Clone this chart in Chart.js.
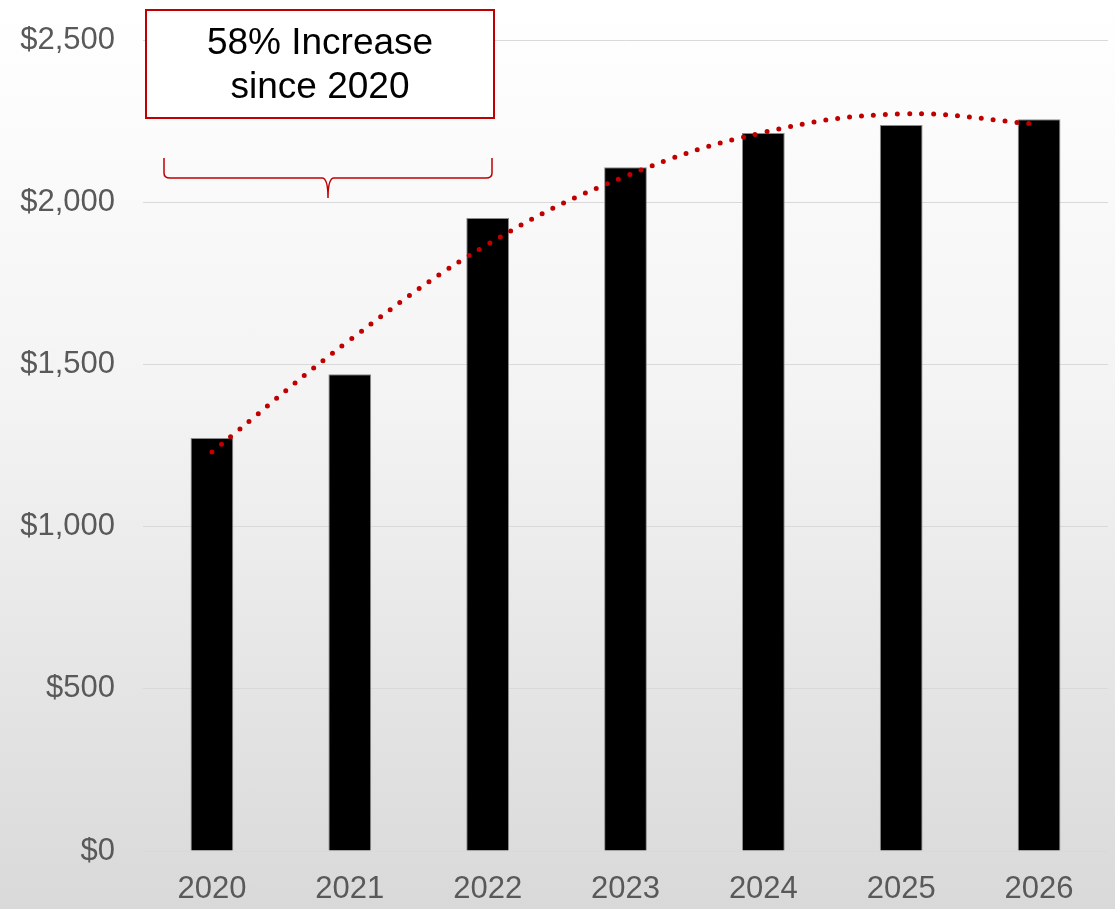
<!DOCTYPE html>
<html>
<head>
<meta charset="utf-8">
<script src="https://cdn.jsdelivr.net/npm/chart.js@4.4.0/dist/chart.umd.min.js"></script>
<style>
  html, body { margin: 0; padding: 0; }
  body {
    width: 1115px; height: 909px; overflow: hidden;
    background: linear-gradient(to bottom, #ffffff 0%, #f3f3f3 45%, #d9d9d9 100%);
  }
  #wrap { position: relative; width: 1115px; height: 909px; }
</style>
</head>
<body>
<div id="wrap"><canvas id="Graph" width="1115" height="909"></canvas></div>
<script>
// chart values
const years = ['2020', '2021', '2022', '2023', '2024', '2025', '2026'];
const spending = [1273, 1470, 1951, 2108, 2213, 2238, 2256];
const trendValues = [1230, 1575, 1870, 2080, 2215, 2272, 2240];
const tickValues = [0, 500, 1000, 1500, 2000, 2500];
const calloutLines = ['58% Increase', 'since 2020'];

const RED = '#C00000';
const GREY_TEXT = '#595959';
const FONT = '"Liberation Sans", Arial, sans-serif';

// draws the callout box and the brace under it
const calloutPlugin = {
    id: 'callout',
    afterDraw(chart) {
        const ctx = chart.ctx;
        ctx.save();
        // box
        ctx.fillStyle = '#ffffff';
        ctx.fillRect(146, 10, 348, 108);
        ctx.strokeStyle = RED;
        ctx.lineWidth = 2;
        ctx.strokeRect(146, 10, 348, 108);
        ctx.fillStyle = '#000000';
        ctx.font = '37px ' + FONT;
        ctx.textAlign = 'center';
        ctx.textBaseline = 'middle';
        ctx.fillText(calloutLines[0], 320, 44);
        ctx.fillText(calloutLines[1], 320, 88);

        // brace
        const left = 164, right = 492, mid = 328, top = 158, y = 178, tip = 198;
        ctx.lineWidth = 1.5;
        ctx.beginPath();
        ctx.moveTo(left, top);
        ctx.lineTo(left, y - 5);
        ctx.quadraticCurveTo(left, y, left + 6, y);
        ctx.lineTo(mid - 6, y);
        ctx.quadraticCurveTo(mid, y, mid, tip);
        ctx.quadraticCurveTo(mid, y, mid + 6, y);
        ctx.lineTo(right - 6, y);
        ctx.quadraticCurveTo(right, y, right, y - 5);
        ctx.lineTo(right, top);
        ctx.stroke();
        ctx.restore();
    }
};

const ctx = document.getElementById('Graph').getContext('2d');
new Chart(ctx, {
    type: 'bar',
    data: {
        labels: years,
        datasets: [
            {
                type: 'line',
                label: 'Trend',
                data: trendValues,
                borderColor: RED,
                borderWidth: 5,
                borderDash: [0, 12],
                borderCapStyle: 'round',
                pointRadius: 0,
                fill: false,
                tension: 0.4,
                order: 0
            },
            {
                label: 'Spending',
                data: spending,
                backgroundColor: '#000000',
                borderColor: '#8c8c8c',
                borderWidth: 1,
                categoryPercentage: 1,
                barPercentage: 0.31,
                order: 1
            }
        ]
    },
    options: {
        responsive: false,
        animation: false,
        layout: { padding: { top: 40, right: 7, bottom: 0, left: 0 } },
        plugins: {
            legend: { display: false },
            tooltip: { enabled: false }
        },
        scales: {
            x: {
                grid: { display: false },
                border: { display: false },
                afterFit(axis) { axis.height = 58; },
                ticks: {
                    color: GREY_TEXT,
                    padding: 12,
                    font: { family: FONT, size: 31 }
                }
            },
            y: {
                min: 0,
                max: 2500,
                afterBuildTicks(axis) {
                    axis.ticks = tickValues.map(v => ({ value: v }));
                },
                afterFit(axis) {
                    axis.width = 143;
                    axis.paddingTop = 0;
                    axis.paddingBottom = 0;
                },
                grid: { color: '#d9d9d9', lineWidth: 1, drawTicks: false },
                border: { display: false },
                ticks: {
                    color: GREY_TEXT,
                    padding: 28,
                    font: { family: FONT, size: 31 },
                    callback: v => '$' + v.toLocaleString('en-US')
                }
            }
        }
    },
    plugins: [calloutPlugin]
});
</script>
</body>
</html>
